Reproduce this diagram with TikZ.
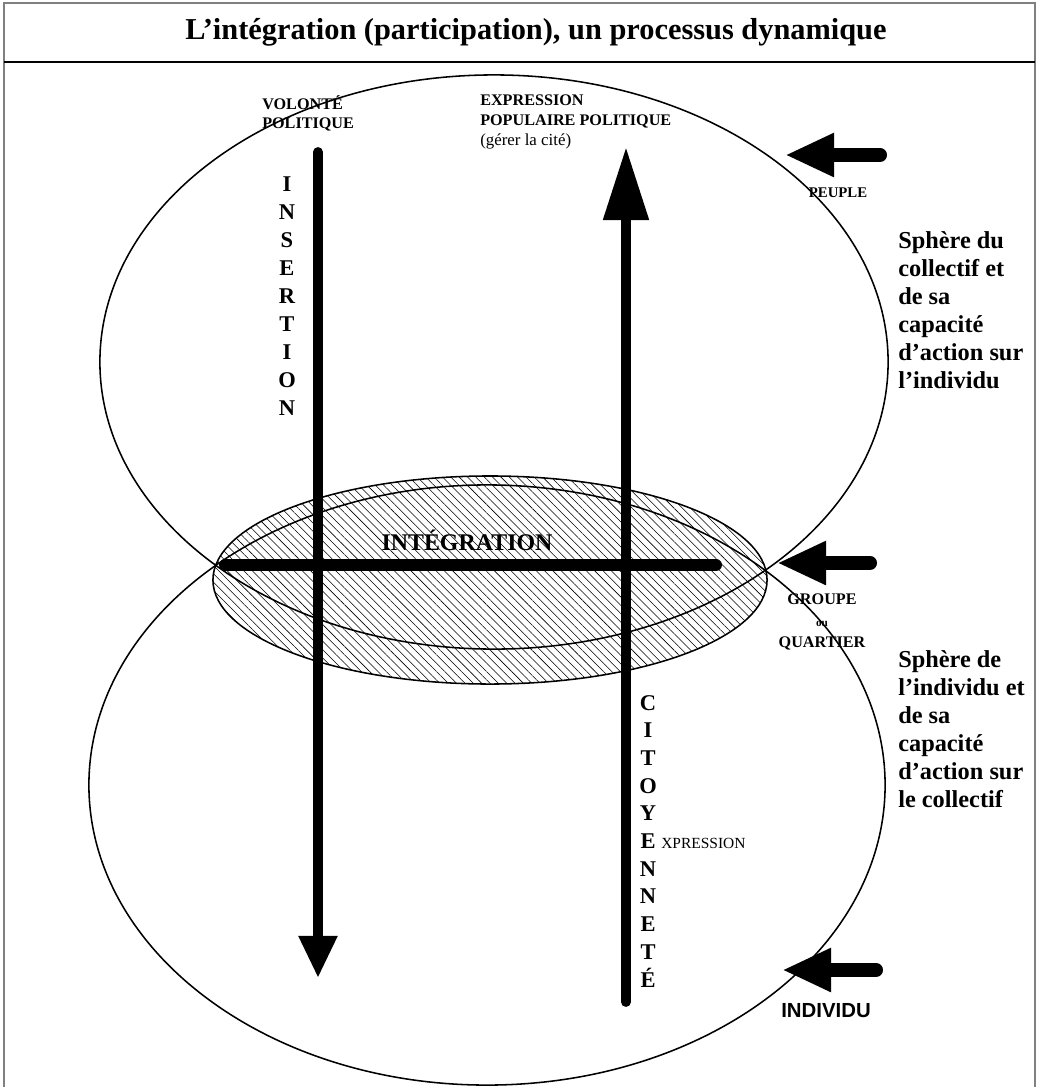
\documentclass[tikz,border=0pt]{standalone}
\usepackage{fontspec}
\setmainfont{Liberation Serif}
\setsansfont{Liberation Sans}
\usepackage{tikz}
\usetikzlibrary{arrows.meta, positioning, patterns.meta}

\begin{document}
\begin{tikzpicture}[x=0.025cm, y=-0.025cm,
    sphere/.style={draw=black, line width=1.1pt},
    lbl/.style={font=\fontsize{11.5}{14}\selectfont\bfseries, align=left, inner sep=0pt, anchor=north west},
    stack/.style={font=\fontsize{16}{19}\selectfont\bfseries, inner sep=0pt, anchor=base},
    side/.style={font=\fontsize{17.3}{19.9}\selectfont\bfseries, align=left, inner sep=0pt, anchor=north west},
    vbar/.style={line width=7pt, line cap=round},
    sidearr/.style={line width=10pt, line cap=round, -{Triangle[length=35pt, width=29pt]}}
]
    \useasboundingbox (0,0) rectangle (1038,1087);
    % frame and title
    \draw[gray, line width=0.8pt] (4,1095) -- (4,3) -- (1035,3) -- (1035,1095);
    \draw[line width=1.4pt] (4,62) -- (1035,62);
    \node[font=\fontsize{21.6}{25}\selectfont\bfseries] (title) at (536,32) {L’intégration (participation), un processus dynamique};

    % spheres
    \draw[sphere, pattern={Lines[angle=-45, distance=4.2pt, line width=0.4pt]}] (490,580) ellipse [x radius=6.925cm, y radius=2.6cm];
    \draw[sphere] (494,362) ellipse [x radius=9.85cm, y radius=7.175cm];
    \draw[sphere] (487,785) ellipse [x radius=9.95cm, y radius=7.5cm];

    % top labels
    \node[lbl] (volonte) at (262,95) {VOLONTÉ\\POLITIQUE};
    \node[lbl] (expression) at (480,95) {EXPRESSION\\POPULAIRE POLITIQUE\\{\normalfont\fontsize{12}{14}\selectfont(gérer la cité)}};

    % vertical words
    \foreach \l [count=\i from 0] in {I,N,S,E,R,T,I,O,N}
        \node[stack] (ins\i) at (287,191+28*\i) {\l};
    \foreach \l [count=\i from 0] in {C,I,T,O,Y,E,N,N,E,T,É}
        \node[stack] (cit\i) at (648,710+27.7*\i) {\l};
    \node[font=\fontsize{11}{13}\selectfont, inner sep=0pt, anchor=base west] (xpr) at (661,848.5) {XPRESSION};

    % main bars
    \coordinate (insTop) at (318,152);
    \coordinate (insEnd) at (318,978);
    \coordinate (citBot) at (626,1002);
    \coordinate (citEnd) at (626,147);
    \coordinate (intL) at (225,565);
    \coordinate (intR) at (716,565);
    \draw[vbar, -{Triangle[length=30pt, width=26pt]}] (insTop) -- (insEnd);
    \draw[vbar, -{Triangle[length=52pt, width=31pt]}] (citBot) -- (citEnd);
    \draw[line width=8.5pt, line cap=round] (intL) -- (intR);
    \node[font=\fontsize{17}{20}\selectfont\bfseries] (integ) at (467,540) {INTÉGRATION};

    % side arrows
    \coordinate (peupleTail) at (880,155);
    \coordinate (peupleTip) at (785,155);
    \coordinate (groupeTail) at (870,563);
    \coordinate (groupeTip) at (777,563);
    \coordinate (indivTail) at (876,970);
    \coordinate (indivTip) at (782,970);
    \draw[sidearr] (peupleTail) -- (peupleTip);
    \draw[sidearr] (groupeTail) -- (groupeTip);
    \draw[sidearr] (indivTail) -- (indivTip);
    \node[font=\fontsize{10.5}{12}\selectfont\bfseries] (peuple) at (838,193) {PEUPLE};
    \node[font=\fontsize{11.5}{15}\selectfont\bfseries, align=center] (groupe) at (822,622) {GROUPE\\{\fontsize{8}{10}\selectfont ou}\\QUARTIER};
    \node[font=\fontsize{14.5}{16}\selectfont\sffamily\bfseries] (indiv) at (826,1011) {INDIVIDU};

    % sphere texts
    \node[side] (collectif) at (898,231) {Sphère du\\collectif et\\de sa\\capacité\\d’action sur\\l’individu};
    \node[side] (individu) at (898,650) {Sphère de\\l’individu et\\de sa\\capacité\\d’action sur\\le collectif};
\end{tikzpicture}
\end{document}
